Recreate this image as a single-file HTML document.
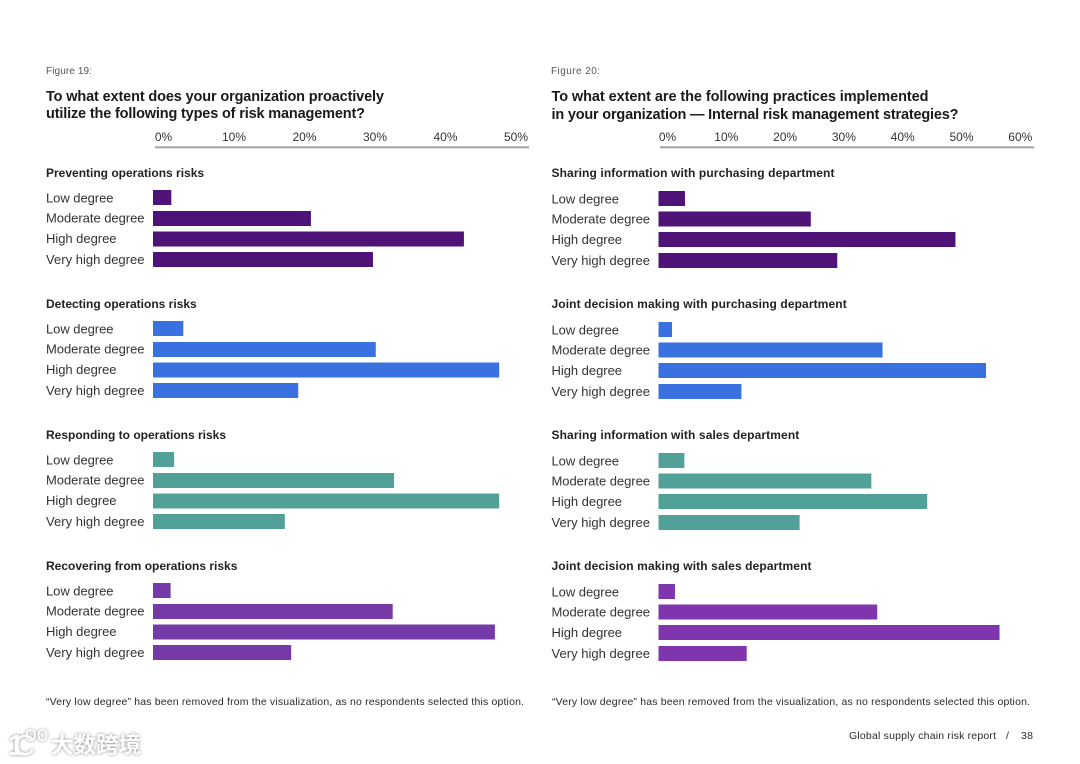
<!DOCTYPE html>
<html lang="en">
<head>
<meta charset="utf-8">
<title>Figures 19 and 20: risk management practices</title>
<style>
html,body{margin:0;padding:0;background:#fff;width:1080px;height:764px;overflow:hidden}
svg{display:block;font-family:"Liberation Sans","Noto Sans CJK SC",sans-serif}
.soft{filter:blur(0.3px)}
.fig{font-size:10px;fill:#555}
.title{font-size:14.5px;font-weight:bold;fill:#1a1a1a}
.tick{font-size:12px;fill:#333}
.head{font-size:12px;font-weight:bold;fill:#222}
.cat{font-size:13px;fill:#333}
.note{font-size:10.5px;fill:#2a2a2a}
.foot{font-size:10.5px;fill:#2a2a2a}
</style>
</head>
<body>
<svg id="page" class="soft" width="1080" height="764" viewBox="0 0 1080 764" xmlns="http://www.w3.org/2000/svg">
  <rect x="0" y="0" width="1080" height="764" fill="#ffffff"/>

  <text class="fig" x="46" y="74" textLength="46" lengthAdjust="spacing">Figure 19:</text>
  <text class="title" x="46" y="101" textLength="338" lengthAdjust="spacing">To what extent does your organization proactively</text>
  <text class="title" x="46" y="118" textLength="319" lengthAdjust="spacing">utilize the following types of risk management?</text>
  <rect x="155" y="146.3" width="374" height="2" fill="#a3a3a3"/>

  <text class="fig" x="551" y="74" textLength="49" lengthAdjust="spacing">Figure 20:</text>
  <text class="title" x="551.5" y="101" textLength="377" lengthAdjust="spacing">To what extent are the following practices implemented</text>
  <text class="title" x="551.5" y="119" textLength="407" lengthAdjust="spacing">in your organization — Internal risk management strategies?</text>
  <rect x="660" y="146.3" width="374" height="2" fill="#a3a3a3"/>

  <g id="left-chart"></g>
  <g id="right-chart"></g>

  <text class="note" x="46" y="705" textLength="478" lengthAdjust="spacing">“Very low degree” has been removed from the visualization, as no respondents selected this option.</text>
  <text class="note" x="552" y="705" textLength="478" lengthAdjust="spacing">“Very low degree” has been removed from the visualization, as no respondents selected this option.</text>

  <text class="foot" x="849" y="739" textLength="147" lengthAdjust="spacing">Global supply chain risk report</text>
  <text class="foot" x="1006" y="739">/</text>
  <text class="foot" x="1021" y="739" textLength="12" lengthAdjust="spacing">38</text>

  <g style="filter:drop-shadow(0 0 1.5px #8a8a8a)">
    <text x="8" y="755" font-size="29" font-weight="bold" fill="#ffffff">1</text>
    <text x="14" y="755" font-size="29" fill="#ffffff">C</text>
    <text x="25" y="741" font-size="21" fill="#ffffff">oo</text>
    <text x="51" y="753" font-size="22.5" font-weight="bold" fill="#ffffff">大数跨境</text>
  </g>
</svg>

<script>
var SVG_NS = 'http://www.w3.org/2000/svg';

var degreeLabels = ['Low degree', 'Moderate degree', 'High degree', 'Very high degree'];

var leftTicks = [0, 10, 20, 30, 40, 50];
var rightTicks = [0, 10, 20, 30, 40, 50, 60];

var leftGroupTitles = ['Preventing operations risks', 'Detecting operations risks', 'Responding to operations risks', 'Recovering from operations risks'];
var rightGroupTitles = ['Sharing information with purchasing department', 'Joint decision making with purchasing department', 'Sharing information with sales department', 'Joint decision making with sales department'];

var leftPreventing = [2.6, 22.4, 44.1, 31.2];
var leftDetecting = [4.3, 31.6, 49.1, 20.6];
var leftResponding = [3.0, 34.2, 49.1, 18.7];
var leftRecovering = [2.5, 34.0, 48.5, 19.6];

var rightSharingPurchasing = [4.5, 25.9, 50.5, 30.4];
var rightJointPurchasing = [2.3, 38.1, 55.7, 14.1];
var rightSharingSales = [4.4, 36.2, 45.7, 24.0];
var rightJointSales = [2.8, 37.2, 58.0, 15.0];

var leftColors = ['#4f1276', '#3a71e0', '#52a199', '#7639a8'];
var rightColors = ['#4f1276', '#3a71e0', '#52a199', '#7f35ad'];

var leftAxis = { zero: 153, perUnit: 7.05, tickCenter: 163.5 };
var rightAxis = { zero: 658.5, perUnit: 5.88, tickCenter: 667.5 };

function barWidth(axis, value) { return value * axis.perUnit; }
function tickX(axis, value) { return axis.tickCenter + value * axis.perUnit; }

function drawPanel(root, prefix, axis, ticks, titles, series, colors, opts) {
  ticks.forEach(function (t) {
    var tick = document.createElementNS(SVG_NS, 'text');
    tick.setAttribute('class', 'tick');
    tick.setAttribute('x', tickX(axis, t));
    tick.setAttribute('y', 141);
    tick.setAttribute('text-anchor', 'middle');
    
    
    tick.textContent = t + '%';
    root.appendChild(tick);
  });

  series.forEach(function (values, g) {
    var offset = g * 131;
    var head = document.createElementNS(SVG_NS, 'text');
    head.setAttribute('class', 'head');
    head.setAttribute('x', opts.textX);
    head.setAttribute('y', 177 + offset);
    head.setAttribute('style', 'letter-spacing:' + opts.headSpacing + 'px');
    
    
    head.textContent = titles[g];
    root.appendChild(head);

    values.forEach(function (v, i) {
      var label = document.createElementNS(SVG_NS, 'text');
      label.setAttribute('class', 'cat');
      label.setAttribute('x', opts.textX);
      label.setAttribute('y', opts.labelY[i] + offset);
      label.setAttribute('textLength', [67.5, 98.5, 70.5, 98.5][i]);
      label.setAttribute('lengthAdjust', 'spacing');
      
      
      label.textContent = degreeLabels[i];
      root.appendChild(label);

      var bar = document.createElementNS(SVG_NS, 'rect');
      bar.setAttribute('x', axis.zero);
      bar.setAttribute('y', opts.barY[i] + offset);
      bar.setAttribute('width', barWidth(axis, v));
      bar.setAttribute('height', 15);
      bar.setAttribute('fill', colors[g]);
      
      
      root.appendChild(bar);
    });
  });
}

drawPanel(
  document.getElementById('left-chart'), 'left', leftAxis, leftTicks, leftGroupTitles,
  [leftPreventing, leftDetecting, leftResponding, leftRecovering], leftColors,
  { textX: 46, labelY: [202.5, 222.5, 243, 264], barY: [190, 211, 231.5, 252], headSpacing: 0 }
);
drawPanel(
  document.getElementById('right-chart'), 'right', rightAxis, rightTicks, rightGroupTitles,
  [rightSharingPurchasing, rightJointPurchasing, rightSharingSales, rightJointSales], rightColors,
  { textX: 551.5, labelY: [203.5, 223.5, 244, 265], barY: [191, 211.5, 232, 253], headSpacing: 0.11 }
);
</script>
</body>
</html>
